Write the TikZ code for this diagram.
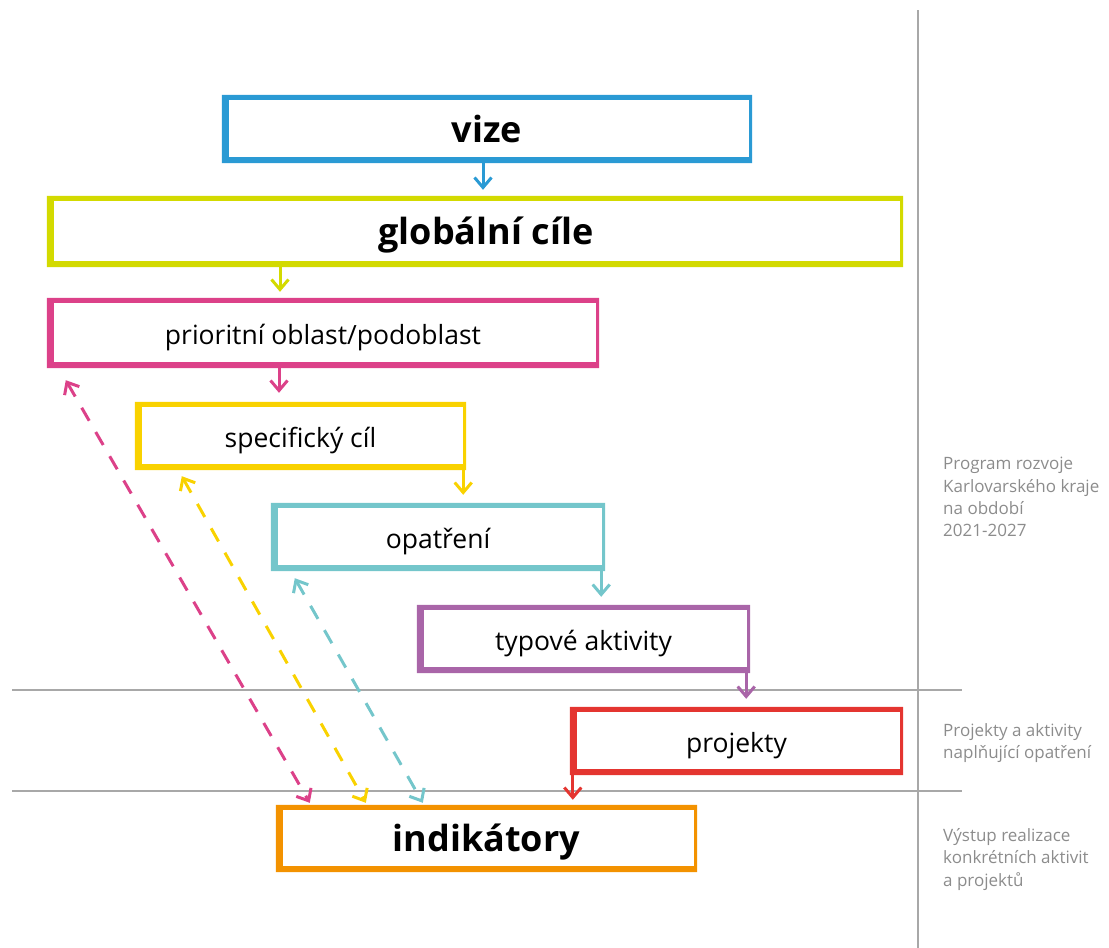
\documentclass[tikz,border=0pt]{standalone}
\usepackage{fontspec}
\setmainfont{Open Sans}
\usetikzlibrary{arrows.meta,calc}
\definecolor{cblue}{HTML}{2A9AD4}
\definecolor{clime}{HTML}{D3DA00}
\definecolor{cpink}{HTML}{DC4189}
\definecolor{cyell}{HTML}{F9D200}
\definecolor{ccyan}{HTML}{74C6CB}
\definecolor{cpurp}{HTML}{A965A8}
\definecolor{cred}{HTML}{E43530}
\definecolor{corange}{HTML}{F39200}
\definecolor{lgray}{HTML}{A8A8A8}
\definecolor{sgray}{HTML}{8C8C8C}
\newcommand\sketchframe[2]{\fill[#2,even odd rule] (#1.south west) rectangle (#1.north east) ([shift={(7pt,-5pt)}]#1.north west) rectangle ([shift={(-3pt,6pt)}]#1.south east);}
\tikzset{
  boxnode/.style={inner sep=0pt, text=black},
  bigtxt/.style={font=\fontsize{36}{40}\selectfont\bfseries, text height=35pt, text depth=9pt},
  smalltxt/.style={font=\fontsize{26.5}{30}\selectfont, text height=30pt, text depth=6.4pt},
  tipA/.tip={Straight Barb[length=10pt,width=17pt,line width=3pt]},
  arr/.style={line width=3pt, -tipA},
  darr/.style={line width=3pt, dash pattern=on 15pt off 13pt, tipA-tipA},
  grayline/.style={draw=lgray, line width=1.2pt},
  side/.style={text=sgray, font=\fontsize{17}{22.4}\selectfont, align=left, anchor=north west, inner sep=0pt}
}
\begin{document}
\begin{tikzpicture}[x=1pt,y=-1pt]
\useasboundingbox (0,0) rectangle (1109,948);
% separator lines
\draw[grayline] (918,10) -- (918,948);
\draw[grayline] (12,690) -- (962,690);
\draw[grayline] (12,791) -- (962,791);
% boxes
\node[boxnode,bigtxt,minimum width=530pt,minimum height=68pt] (vize) at (487,129) {vize};
\node[boxnode,bigtxt,minimum width=856pt,minimum height=71pt] (glob) at (475,231.5) {\hspace*{22pt}globální cíle};
\node[boxnode,smalltxt,minimum width=552pt,minimum height=70pt] (prio) at (323,333) {prioritní oblast/podoblast};
\node[boxnode,smalltxt,minimum width=331pt,minimum height=68pt] (spec) at (300.5,436) {specifický cíl};
\node[boxnode,smalltxt,minimum width=334pt,minimum height=68pt] (opat) at (438,537) {opatření};
\node[boxnode,smalltxt,minimum width=333pt,minimum height=68pt] (typ) at (583.5,639) {typové aktivity};
\node[boxnode,smalltxt,minimum width=333pt,minimum height=68pt] (proj) at (736.5,741) {projekty};
\node[boxnode,bigtxt,minimum width=421pt,minimum height=67pt] (indik) at (486.5,838.5) {indikátory};
\sketchframe{vize}{cblue}
\sketchframe{glob}{clime}
\sketchframe{prio}{cpink}
\sketchframe{spec}{cyell}
\sketchframe{opat}{ccyan}
\sketchframe{typ}{cpurp}
\sketchframe{proj}{cred}
\sketchframe{indik}{corange}
% solid arrows
\draw[arr,cblue] ([xshift=-4pt]vize.south) -- ([xshift=-4pt,yshift=6pt]vize.south |- glob.north);
\draw[arr,clime] ([xshift=-43pt]prio.north |- glob.south) -- ([xshift=-43pt,yshift=6pt]prio.north);
\draw[arr,cpink] ([xshift=-44pt]prio.south) -- ([xshift=-44pt,yshift=9pt]prio.south |- spec.north);
\draw[arr,cyell] ([xshift=-3pt]spec.south east) -- ([xshift=-3pt,yshift=8pt]spec.south east |- opat.north);
\draw[arr,ccyan] ([xshift=-4pt]opat.south east) -- ([xshift=-4pt,yshift=8pt]opat.south east |- typ.north);
\draw[arr,cpurp] ([xshift=-4pt]typ.south east) -- ([xshift=-4pt,yshift=8pt]typ.south east |- proj.north);
\draw[arr,cred] ([xshift=3pt]proj.south west) -- ([xshift=3pt,yshift=5pt]proj.south west |- indik.north);
% dashed double arrows
\draw[darr,cpink] ([shift={(19pt,-12pt)}]prio.south west) -- ([shift={(34pt,2pt)}]indik.north west);
\draw[darr,cyell] ([shift={(47pt,-6pt)}]spec.south west) -- ([shift={(90pt,2pt)}]indik.north west);
\draw[darr,ccyan] ([shift={(24pt,-7pt)}]opat.south west) -- ([shift={(147pt,2pt)}]indik.north west);
% side texts
\node[side] (s1) at (943,457) {Program rozvoje\\Karlovarského kraje\\na období\\2021-2027};
\node[side] (s2) at (943,723) {Projekty a aktivity\\naplňující opatření};
\node[side] (s3) at (943,828) {Výstup realizace\\konkrétních aktivit\\a projektů};
\end{tikzpicture}
\end{document}
